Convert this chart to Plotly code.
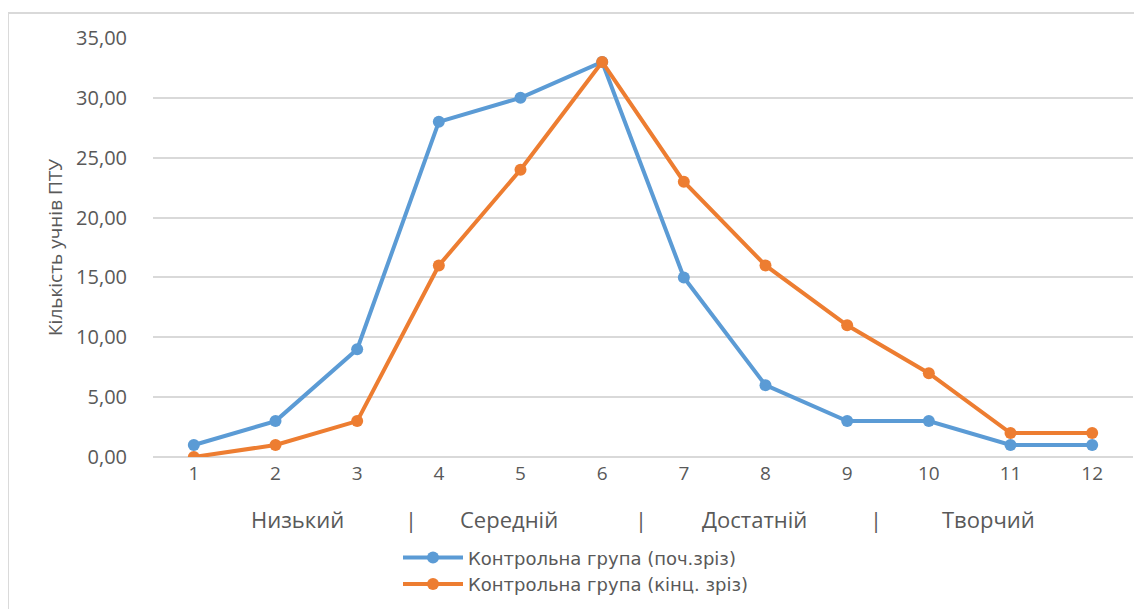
import plotly.graph_objects as go

categories = [1, 2, 3, 4, 5, 6, 7, 8, 9, 10, 11, 12]
start_values = [1, 3, 9, 28, 30, 33, 15, 6, 3, 3, 1, 1]
end_values = [0, 1, 3, 16, 24, 33, 23, 16, 11, 7, 2, 2]
series_names = ["Контрольна група (поч.зріз)", "Контрольна група (кінц. зріз)"]
level_labels = ["Низький", "|", "Середній", "|", "Достатній", "|", "Творчий"]
level_positions = [2.27, 3.66, 4.86, 6.48, 7.87, 9.35, 10.73]
y_ticks = [0, 5, 10, 15, 20, 25, 30, 35]

FONT = "Open Sans"
GRAY = "#595959"

fig = go.Figure()
fig.add_trace(go.Scatter(x=categories, y=start_values, name=series_names[0],
                         mode="lines+markers",
                         line=dict(color="#5B9BD5", width=4),
                         marker=dict(size=12, color="#5B9BD5")))
fig.add_trace(go.Scatter(x=categories, y=end_values, name=series_names[1],
                         mode="lines+markers",
                         line=dict(color="#ED7D31", width=4),
                         marker=dict(size=12, color="#ED7D31")))

for lab, pos in zip(level_labels, level_positions):
    fig.add_annotation(x=pos, xref="x", y=-0.148, yref="paper", text=lab,
                       showarrow=False, font=dict(family=FONT, size=22, color=GRAY),
                       xanchor="center", yanchor="middle")

fig.add_shape(type="rect", xref="paper", yref="paper",
              x0=-0.148, x1=1.03, y0=-0.45, y1=1.0597,
              line=dict(color="#d9d9d9", width=2), layer="below")

fig.update_layout(
    width=1134, height=601,
    margin=dict(l=145, r=9, t=30, b=152),
    paper_bgcolor="white", plot_bgcolor="white",
    separators=", ",
    font=dict(family=FONT, color=GRAY, size=20),
    showlegend=True,
    legend=dict(orientation="v", x=0.25, xanchor="left",
                yref="container", y=0.116, yanchor="top",
                font=dict(family="DejaVu Sans", size=18, color=GRAY), tracegroupgap=0,
                itemwidth=60),
    xaxis=dict(range=[0.5, 12.5], tickvals=categories, ticktext=[str(c) for c in categories],
               showgrid=False, showline=False, zeroline=False, ticks="",
               tickfont=dict(family=FONT, size=19, color=GRAY), ticklabelstandoff=3),
    yaxis=dict(range=[0, 35], tickvals=y_ticks, tickformat=".2f",
               showgrid=True, gridcolor="#d9d9d9", gridwidth=1.5,
               zeroline=True, zerolinecolor="#d9d9d9", zerolinewidth=1.5,
               showline=False, ticks="", ticklabelstandoff=25,
               tickfont=dict(family=FONT, size=20, color=GRAY),
               title=dict(text="Кількість учнів ПТУ", standoff=8,
                          font=dict(family=FONT, size=19, color=GRAY))),
)

fig.write_html("out.html")
